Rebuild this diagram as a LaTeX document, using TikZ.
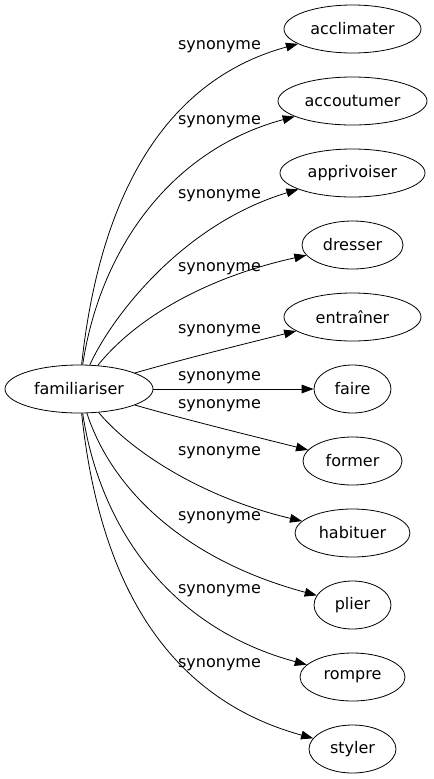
\documentclass[tikz,border=0pt]{standalone}
\usepackage{fontspec}
\setmainfont{DejaVu Sans}
\usetikzlibrary{shapes.geometric,arrows.meta}

\begin{document}
\begin{tikzpicture}[x=0.75pt,y=-0.75pt,
	word/.style={draw,ellipse,line width=0.6pt,inner sep=0pt,minimum height=36pt,font=\fontsize{12}{14}\selectfont},
	syn/.style={-{Triangle[length=9pt,width=6.5pt]},line width=0.6pt},
	lbl/.style={inner sep=0pt,font=\fontsize{12}{14}\selectfont}]
	\useasboundingbox (0,0) rectangle (433,779);
	\node [word,minimum width=111pt] (fam) at (79,389) {familiariser};
	\node [word,minimum width=102.75pt] (acclimater) at (352.5,29) {acclimater};
	\node [word,minimum width=111.75pt] (accoutumer) at (352.5,101) {accoutumer};
	\node [word,minimum width=108.75pt] (apprivoiser) at (352.5,173) {apprivoiser};
	\node [word,minimum width=75.75pt] (dresser) at (352.5,245) {dresser};
	\node [word,minimum width=102.75pt] (entrainer) at (352.5,317) {entraîner};
	\node [word,minimum width=57.75pt] (faire) at (352.5,389) {faire};
	\node [word,minimum width=74.25pt] (former) at (352.5,461) {former};
	\node [word,minimum width=86.25pt] (habituer) at (352.5,533) {habituer};
	\node [word,minimum width=57.75pt] (plier) at (352.5,605) {plier};
	\node [word,minimum width=78.75pt] (rompre) at (352.5,677) {rompre};
	\node [word,minimum width=65.25pt] (styler) at (352.5,749) {styler};
	\draw [syn] (fam) .. controls (95,240) and (140,87) .. (acclimater);
	\draw [syn] (fam) .. controls (100,250) and (170,150) .. (accoutumer);
	\draw [syn] (fam) .. controls (110,320) and (180,225) .. (apprivoiser);
	\draw [syn] (fam) .. controls (130,325) and (195,280) .. (dresser);
	\draw [syn] (fam) .. controls (180,360) and (240,345) .. (entrainer);
	\draw [syn] (fam) -- (faire);
	\draw [syn] (fam) .. controls (180,418) and (240,433) .. (former);
	\draw [syn] (fam) .. controls (130,450) and (200,497) .. (habituer);
	\draw [syn] (fam) .. controls (112,490) and (185,560) .. (plier);
	\draw [syn] (fam) .. controls (100,528) and (170,628) .. (rompre);
	\draw [syn] (fam) .. controls (95,538) and (140,691) .. (styler);
	\node [lbl] (l1) at (219.5,47) {synonyme};
	\node [lbl] (l2) at (219.5,122) {synonyme};
	\node [lbl] (l3) at (219.5,196) {synonyme};
	\node [lbl] (l4) at (219.5,269) {synonyme};
	\node [lbl] (l5) at (219.5,331) {synonyme};
	\node [lbl] (l6) at (219.5,378) {synonyme};
	\node [lbl] (l7) at (219.5,406) {synonyme};
	\node [lbl] (l8) at (219.5,453) {synonyme};
	\node [lbl] (l9) at (219.5,518) {synonyme};
	\node [lbl] (l10) at (219.5,591) {synonyme};
	\node [lbl] (l11) at (219.5,665) {synonyme};
\end{tikzpicture}
\end{document}
